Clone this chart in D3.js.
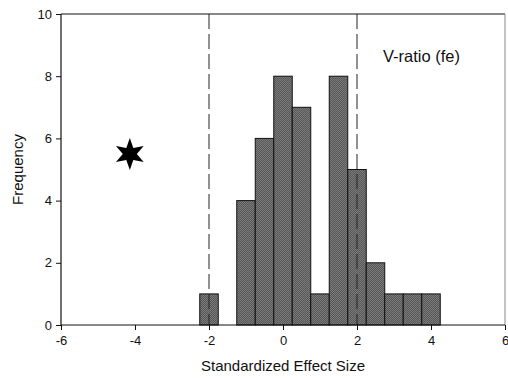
<!DOCTYPE html>
<html>
<head>
<meta charset="utf-8">
<script src="https://cdn.jsdelivr.net/npm/d3@7"></script>
<style>
  body { margin: 0; background: #fff; }
  svg text { font-family: "Liberation Sans", Arial, sans-serif; fill: #111; }
</style>
</head>
<body>
<div id="chart"></div>
<script>
// histogram bins: centre of bin (width 0.5) and count
const binCenters = [-2, -1, -0.5, 0, 0.5, 1, 1.5, 2, 2.5, 3, 3.5, 4];
const binCounts  = [ 1,  4,    6, 8,   7, 1,   8, 5,   2, 1,   1, 1];
const binWidth = 0.5;
const xTicks = [-6, -4, -2, 0, 2, 4, 6];
const yTicks = [0, 2, 4, 6, 8, 10];
const cutoffs = [-2, 2];
const observed = {x: -4.14, y: 5.5};

const W = 508, H = 378;
const margin = {top: 14, right: 3, bottom: 53, left: 61};
const width = W - margin.left - margin.right,
      height = H - margin.top - margin.bottom;

const svg = d3.select("#chart").append("svg")
    .attr("width", W).attr("height", H);

// grey dotted fill like the scanned hatch
const defs = svg.append("defs");
const pat = defs.append("pattern").attr("id", "hatch")
    .attr("width", 2).attr("height", 2).attr("patternUnits", "userSpaceOnUse");
pat.append("rect").attr("width", 2).attr("height", 2).attr("fill", "#7a7a7a");
pat.append("rect").attr("width", 1).attr("height", 1).attr("fill", "#555");
pat.append("rect").attr("x", 1).attr("y", 1).attr("width", 1).attr("height", 1).attr("fill", "#5a5a5a");

const g = svg.append("g").attr("transform", "translate(" + margin.left + "," + margin.top + ")");

const x = d3.scaleLinear().domain([-6, 6]).range([0, width]);
const y = d3.scaleLinear().domain([0, 10]).range([height, 0]);

// frame: top and right
g.append("line").attr("x1", 0).attr("x2", width).attr("y1", 0).attr("y2", 0)
    .attr("stroke", "#111").attr("stroke-width", 1.2);
g.append("line").attr("x1", width).attr("x2", width).attr("y1", 0).attr("y2", height)
    .attr("stroke", "#888").attr("stroke-width", 1);

// bars
g.selectAll("rect.bar")
    .data(binCenters.map((c, i) => ({c: c, n: binCounts[i]})))
    .enter().append("rect")
    .attr("class", "bar")
    .attr("x", d => x(d.c - binWidth / 2))
    .attr("y", d => y(d.n))
    .attr("width", d => x(d.c + binWidth / 2) - x(d.c - binWidth / 2))
    .attr("height", d => y(0) - y(d.n))
    .attr("fill", "url(#hatch)")
    .attr("stroke", "#111").attr("stroke-width", 1);

// dashed cutoff lines
g.selectAll("line.cut").data(cutoffs).enter().append("line")
    .attr("class", "cut")
    .attr("x1", d => x(d)).attr("x2", d => x(d))
    .attr("y1", 0).attr("y2", height)
    .attr("stroke", "#222").attr("stroke-width", 1)
    .attr("stroke-dasharray", "15,5");

// axes (plain hyphen for negatives, like the original)
const fmt = d => String(d);
const xAxis = g.append("g").attr("transform", "translate(0," + height + ")")
    .call(d3.axisBottom(x).tickValues(xTicks).tickSize(5).tickPadding(6).tickFormat(fmt));
const yAxis = g.append("g")
    .call(d3.axisLeft(y).tickValues(yTicks).tickSize(5).tickPadding(4).tickFormat(fmt));
[xAxis, yAxis].forEach(a => {
    a.attr("font-family", null);
    a.select(".domain").attr("stroke", "#111").attr("stroke-width", 1.2);
    a.selectAll(".tick line").attr("stroke", "#111");
    a.selectAll(".tick text").attr("font-size", 13).attr("fill", "#111");
});
xAxis.select(".domain").attr("d", "M0,0H" + width);
yAxis.select(".domain").attr("d", "M0," + height + "V0");

// observed value: six-pointed star
const starPts = [];
for (let i = 0; i < 12; i++) {
    const a = -Math.PI / 2 + i * Math.PI / 6;
    const r = i % 2 === 0 ? 16 : 7;
    starPts.push([r * Math.cos(a), r * Math.sin(a)]);
}
g.append("path")
    .attr("d", d3.line()(starPts) + "Z")
    .attr("transform", "translate(" + x(observed.x) + "," + y(observed.y) + ")")
    .attr("fill", "#000");

// labels
g.append("text").attr("x", x(0)).attr("y", height + 46)
    .attr("text-anchor", "middle").attr("font-size", 15)
    .text("Standardized Effect Size");
g.append("text")
    .attr("transform", "translate(" + (-38) + "," + (height / 2) + ") rotate(-90)")
    .attr("text-anchor", "middle").attr("font-size", 15)
    .text("Frequency");
g.append("text").attr("x", 322).attr("y", 48)
    .attr("font-size", 16.5)
    .text("V-ratio (fe)");
</script>
</body>
</html>
